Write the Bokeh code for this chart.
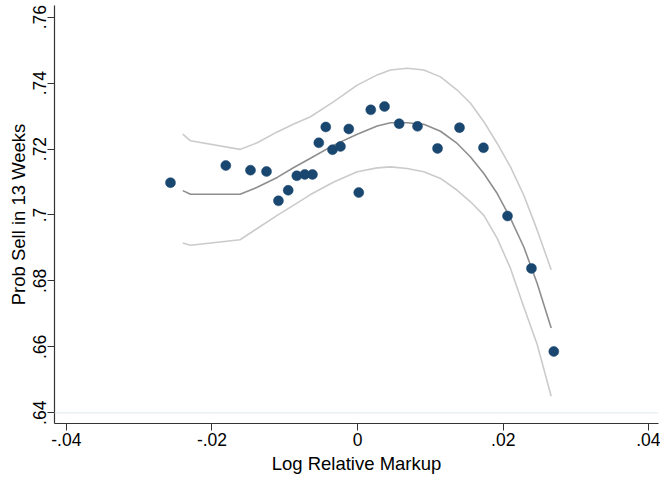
import math
from bokeh.plotting import figure
from bokeh.models import Range1d, FixedTicker, Span
from bokeh.embed import file_html
from bokeh.resources import INLINE

# scatter data
pt_x = [-0.02570, -0.01810, -0.01471, -0.01251, -0.01087, -0.00953, -0.00835,
        -0.00725, -0.00620, -0.00533, -0.00437, -0.00345, -0.00235, -0.00121,
        0.00016, 0.00181, 0.00370, 0.00571, 0.00823, 0.01098, 0.01400,
        0.01729, 0.02059, 0.02388, 0.02695]
pt_y = [0.7098, 0.7150, 0.7136, 0.7132, 0.7043, 0.7075, 0.7119,
        0.7123, 0.7123, 0.7219, 0.7267, 0.7198, 0.7208, 0.7261,
        0.7068, 0.7319, 0.7329, 0.7277, 0.7269, 0.7202, 0.7265,
        0.7204, 0.6997, 0.6838, 0.6586]

# fitted curve and confidence band
fit_x = [-0.02401, -0.02295, -0.01615, -0.01379, -0.01104, -0.00876, -0.00647,
         -0.00327, -0.00005, 0.00269, 0.00452, 0.00681, 0.00909, 0.01139,
         0.01368, 0.01551, 0.01734, 0.01918, 0.02100, 0.02283, 0.02467, 0.02659]
fit_y = [0.7074, 0.7063, 0.7063, 0.7084, 0.7114, 0.7144, 0.7172,
         0.7212, 0.7245, 0.7270, 0.7280, 0.7280, 0.7275, 0.7254,
         0.7217, 0.7176, 0.7126, 0.7065, 0.6990, 0.6903, 0.6792, 0.6657]
ci_hi = [0.7245, 0.7225, 0.7199, 0.7219, 0.7252, 0.7276, 0.7298,
         0.7344, 0.7394, 0.7425, 0.7440, 0.7445, 0.7440, 0.7419,
         0.7379, 0.7339, 0.7283, 0.7217, 0.7146, 0.7060, 0.6954, 0.6834]
ci_lo = [0.6915, 0.6908, 0.6925, 0.6959, 0.6999, 0.7030, 0.7062,
         0.7100, 0.7131, 0.7143, 0.7146, 0.7141, 0.7131, 0.7111,
         0.7075, 0.7040, 0.6999, 0.6929, 0.6838, 0.6721, 0.6607, 0.6450]

x_ticks = [-0.04, -0.02, 0, 0.02, 0.04]
x_labels = ["-.04", "-.02", "0", ".02", ".04"]
y_ticks = [0.64, 0.66, 0.68, 0.70, 0.72, 0.74, 0.76]
y_labels = [".64", ".66", ".68", ".7", ".72", ".74", ".76"]

FONT = "Liberation Sans"

p = figure(width=660, height=478, output_backend="svg", toolbar_location=None,
           x_range=Range1d(-0.04163, 0.04133), y_range=Range1d(0.63675, 0.76355),
           min_border_left=54, min_border_right=2, min_border_top=5,
           min_border_bottom=55)
p.outline_line_color = None
p.background_fill_color = "white"
p.border_fill_color = "white"
p.grid.visible = False

# single faint grid line at bottom label
p.add_layout(Span(location=y_ticks[0], dimension="width",
                  line_color="#e6eef0", line_width=1.2))

p.line(fit_x, ci_hi, line_color="#cbcbcb", line_width=1.6)
p.line(fit_x, ci_lo, line_color="#cbcbcb", line_width=1.6)
p.line(fit_x, fit_y, line_color="#8e8e8e", line_width=1.6)
p.scatter(pt_x, pt_y, size=10, fill_color="#1a476f", line_color="#1a476f",
          line_width=0.5)

p.xaxis.ticker = FixedTicker(ticks=x_ticks)
p.xaxis.major_label_overrides = {t: l for t, l in zip(x_ticks, x_labels)}
p.yaxis.ticker = FixedTicker(ticks=y_ticks)
p.yaxis.major_label_overrides = {t: l for t, l in zip(y_ticks, y_labels)}
p.yaxis.major_label_orientation = "parallel"

for ax in (p.xaxis[0], p.yaxis[0]):
    ax.axis_line_color = "#333333"
    ax.axis_line_width = 1.2
    ax.major_tick_line_color = "#333333"
    ax.major_tick_out = 7
    ax.major_tick_in = 0
    ax.minor_tick_line_color = None
    ax.major_label_text_font = FONT
    ax.major_label_text_font_size = "17.5px"
    ax.major_label_text_color = "black"
    ax.axis_label_text_font = FONT
    ax.axis_label_text_font_size = "18.5px"
    ax.axis_label_text_font_style = "normal"
    ax.axis_label_text_color = "black"

p.xaxis.major_label_standoff = 2
p.yaxis.major_label_standoff = 1
p.xaxis.axis_label = "Log Relative Markup"
p.yaxis.axis_label = "Prob Sell in 13 Weeks"
p.xaxis.axis_label_standoff = 4
p.yaxis.axis_label_standoff = 2

open("out.html", "w").write(file_html(p, INLINE))
